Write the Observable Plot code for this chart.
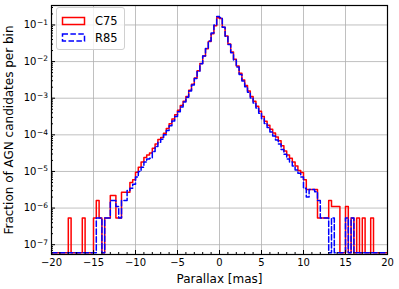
<!DOCTYPE html>
<html><head><meta charset="utf-8">
<script src="https://cdn.jsdelivr.net/npm/d3@7"></script>
<script src="https://cdn.jsdelivr.net/npm/@observablehq/plot@0.6"></script>
<style>
body{margin:0;background:#fff;}
#wrap{position:relative;width:399px;height:289px;font-family:"DejaVu Sans",sans-serif;}
#legend{position:absolute;left:56px;top:7px;}
</style></head><body><div id="wrap"></div>
<script>
// histogram bins: 120 bins of 1/3 mas from -20 to 20
const binStart = -20;
const binWidth = 1/3;
const seriesNames = ["C75", "R85"];
const seriesColors = ["#ff0000", "#0000ff"];
// fraction of AGN candidates per bin (0 = empty bin)
const c75 = [
 0,0,0,0,0,0, 5.4e-7, 0,0,0,0, 5.4e-7, 0,0,0, 5.4e-7, 1.6e-6, 5.4e-7, 0, 5.4e-7,
 5.4e-7, 2.2e-6, 2.2e-6, 5.4e-7, 5.4e-7, 2.7e-6, 2.7e-6, 2.7e-6, 5.0e-6, 5.9e-6,
 9.5e-6, 1.3e-5, 1.8e-5, 2.4e-5, 2.8e-5, 3.2e-5, 4.3e-5, 5.6e-5, 7.4e-5, 8.5e-5,
 1.1e-4, 1.48e-4, 2.0e-4, 2.7e-4, 3.55e-4, 4.7e-4, 6.3e-4, 8.3e-4, 1.12e-3, 1.66e-3,
 2.4e-3, 3.55e-3, 5.62e-3, 8.91e-3, 1.41e-2, 2.24e-2, 3.55e-2, 5.75e-2, 9.55e-2, 0.158,
 0.151, 0.0871, 0.0501, 0.0302, 0.0182, 0.0115, 7.59e-3, 4.79e-3, 3.16e-3, 2.24e-3,
 1.58e-3, 1.12e-3, 8.3e-4, 6.0e-4, 4.4e-4, 3.16e-4, 2.34e-4, 1.82e-4, 1.41e-4, 1.12e-4,
 8.7e-5, 6.9e-5, 5.0e-5, 3.6e-5, 2.8e-5, 2.3e-5, 1.8e-5, 1.4e-5, 1.07e-5, 9.3e-6,
 5.9e-6, 3.2e-6, 3.2e-6, 3.2e-6, 3.2e-6, 5.4e-7, 5.4e-7, 5.4e-7, 5.4e-7, 1.6e-6,
 1.1e-6, 1.1e-6, 1.1e-6, 0, 0, 1.1e-6, 0, 5.4e-7, 0, 5.4e-7,
 0, 5.4e-7, 0, 0, 5.4e-7, 0, 0, 0, 0, 0
];
const r85 = [
 0,0,0,0,0,0,0,0,0,0, 0,0,0,0,0,0, 5.4e-7, 5.4e-7, 0, 5.4e-7,
 5.4e-7, 1.6e-6, 1.6e-6, 1.1e-6, 5.4e-7, 1.6e-6, 1.6e-6, 3.0e-6, 3.5e-6, 4.5e-6,
 7.1e-6, 1.0e-5, 1.3e-5, 1.8e-5, 2.2e-5, 2.3e-5, 3.5e-5, 4.8e-5, 6.3e-5, 7.6e-5,
 1.0e-4, 1.32e-4, 1.78e-4, 2.4e-4, 3.16e-4, 4.3e-4, 5.75e-4, 7.9e-4, 1.07e-3, 1.58e-3,
 2.29e-3, 3.47e-3, 5.37e-3, 8.71e-3, 1.41e-2, 2.29e-2, 3.63e-2, 6.03e-2, 0.1, 0.17,
 0.158, 0.0871, 0.049, 0.0295, 0.0174, 0.011, 7.08e-3, 4.47e-3, 2.95e-3, 2.04e-3,
 1.45e-3, 1.02e-3, 7.4e-4, 5.4e-4, 3.9e-4, 2.75e-4, 2.04e-4, 1.58e-4, 1.2e-4, 9.3e-5,
 7.2e-5, 5.6e-5, 4.0e-5, 2.95e-5, 2.2e-5, 1.8e-5, 1.4e-5, 1.1e-5, 8.9e-6, 7.1e-6,
 3.5e-6, 2.0e-6, 3.2e-6, 3.2e-6, 2.8e-6, 1.6e-6, 5.4e-7, 5.4e-7, 5.4e-7, 0,
 5.4e-7, 0, 0, 0, 0, 5.4e-7, 0, 5.4e-7, 0, 0,
 0, 0, 0, 0, 0, 0, 0, 0, 0, 0
];
const xTicks = [-20, -15, -10, -5, 0, 5, 10, 15, 20];
const yTicks = [1e-7, 1e-6, 1e-5, 1e-4, 1e-3, 1e-2, 1e-1];
const xDomain = [-20, 20];
const yDomain = [5.4e-8, 0.34];
const zeroLevel = 6e-8; // where empty bins sit on the log axis
const xLabel = "Parallax [mas]";
const yLabel = "Fraction of AGN candidates per bin";

const xMinor = d3.range(-19, 20).filter(v => v % 5 !== 0);
const yMinor = [];
for (let e = -8; e <= -1; e++) for (let m = 2; m <= 9; m++) {
  const v = m * Math.pow(10, e);
  if (v >= yDomain[0] && v <= yDomain[1]) yMinor.push(v);
}

function stepPoints(values, name) {
  const pts = values.map((v, i) => ({x: binStart + i * binWidth, y: v > 0 ? v : zeroLevel, series: name}));
  pts.push({x: binStart + values.length * binWidth, y: pts[pts.length - 1].y, series: name});
  return pts;
}
const redPts = stepPoints(c75, seriesNames[0]);
const bluePts = stepPoints(r85, seriesNames[1]);

const fmtX = d => d < 0 ? "\u2212" + (-d) : String(d);

const chart = Plot.plot({
  width: 399, height: 289,
  marginLeft: 51, marginRight: 12, marginTop: 5, marginBottom: 35,
  style: {fontFamily: "DejaVu Sans, sans-serif", fontSize: "10px", background: "white", color: "black"},
  x: {domain: xDomain},
  y: {type: "log", domain: yDomain},
  marks: [
    Plot.gridX(xTicks, {stroke: "#b0b0b0", strokeOpacity: 1, strokeWidth: 0.8}),
    Plot.gridY(yTicks, {stroke: "#b0b0b0", strokeOpacity: 1, strokeWidth: 0.8}),
    Plot.line(redPts, {x: "x", y: "y", curve: "step-after", stroke: seriesColors[0], strokeWidth: 1.5, clip: true}),
    Plot.line(bluePts, {x: "x", y: "y", curve: "step-after", stroke: seriesColors[1], strokeWidth: 1.5, strokeDasharray: "5.5,2.4", clip: true}),
    Plot.frame({stroke: "black", strokeWidth: 1.2}),
    Plot.axisX({ticks: xTicks, tickSize: -4, tickPadding: 8, tickFormat: fmtX, label: xLabel, labelAnchor: "center", labelOffset: 28, labelArrow: "none"}),
    Plot.axisX({ticks: xMinor, tickSize: -2, tickFormat: () => "", label: null}),
    Plot.axisY({ticks: yTicks, tickSize: -4, tickPadding: 7.5, tickFormat: d => String(Math.round(Math.log10(d))), label: yLabel, labelAnchor: "center", labelOffset: 47, labelArrow: "none"}),
    Plot.axisY({ticks: yMinor, tickSize: -2, tickFormat: () => "", label: null})
  ]
});

// render y tick labels as 10 with a superscript exponent
chart.querySelectorAll('g[aria-label="y-axis tick label"] text').forEach(t => {
  const e = t.textContent.trim();
  if (!e) return;
  t.textContent = "10";
  const s = document.createElementNS("http://www.w3.org/2000/svg", "tspan");
  s.setAttribute("dy", "-0.45em");
  s.setAttribute("dx", "0.5");
  s.setAttribute("font-size", "7.5px");
  s.textContent = e.replace("-", "\u2212");
  t.appendChild(s);
});
// axis titles slightly larger than tick labels
chart.querySelectorAll('g[aria-label="x-axis label"], g[aria-label="y-axis label"]').forEach(g => g.setAttribute("font-size", "12px"));

const wrap = document.getElementById("wrap");
wrap.appendChild(chart);

// legend (upper left, inside the axes)
const lg = document.createElement("div");
lg.id = "legend";
const ns = "http://www.w3.org/2000/svg";
const lsvg = document.createElementNS(ns, "svg");
lsvg.setAttribute("width", 70); lsvg.setAttribute("height", 44);
const box = document.createElementNS(ns, "rect");
box.setAttribute("x", 0.5); box.setAttribute("y", 0.5); box.setAttribute("width", 68); box.setAttribute("height", 42);
box.setAttribute("rx", 2.5); box.setAttribute("fill", "rgba(255,255,255,0.8)"); box.setAttribute("stroke", "#d0d0d0");
lsvg.appendChild(box);
seriesNames.forEach((name, i) => {
  const r = document.createElementNS(ns, "rect");
  r.setAttribute("x", 6.5); r.setAttribute("y", 10.5 + i * 16.5);
  r.setAttribute("width", 22); r.setAttribute("height", 7);
  r.setAttribute("fill", "none"); r.setAttribute("stroke", seriesColors[i]); r.setAttribute("stroke-width", 1.5);
  if (i === 1) r.setAttribute("stroke-dasharray", "5.5,2.4");
  lsvg.appendChild(r);
  const t = document.createElementNS(ns, "text");
  t.setAttribute("x", 39); t.setAttribute("y", 14 + i * 16.5);
  t.setAttribute("dy", "0.36em");
  t.setAttribute("font-family", "DejaVu Sans, sans-serif"); t.setAttribute("font-size", "11.5px");
  t.textContent = name;
  lsvg.appendChild(t);
});
lg.appendChild(lsvg);
wrap.appendChild(lg);
</script>
</body></html>
